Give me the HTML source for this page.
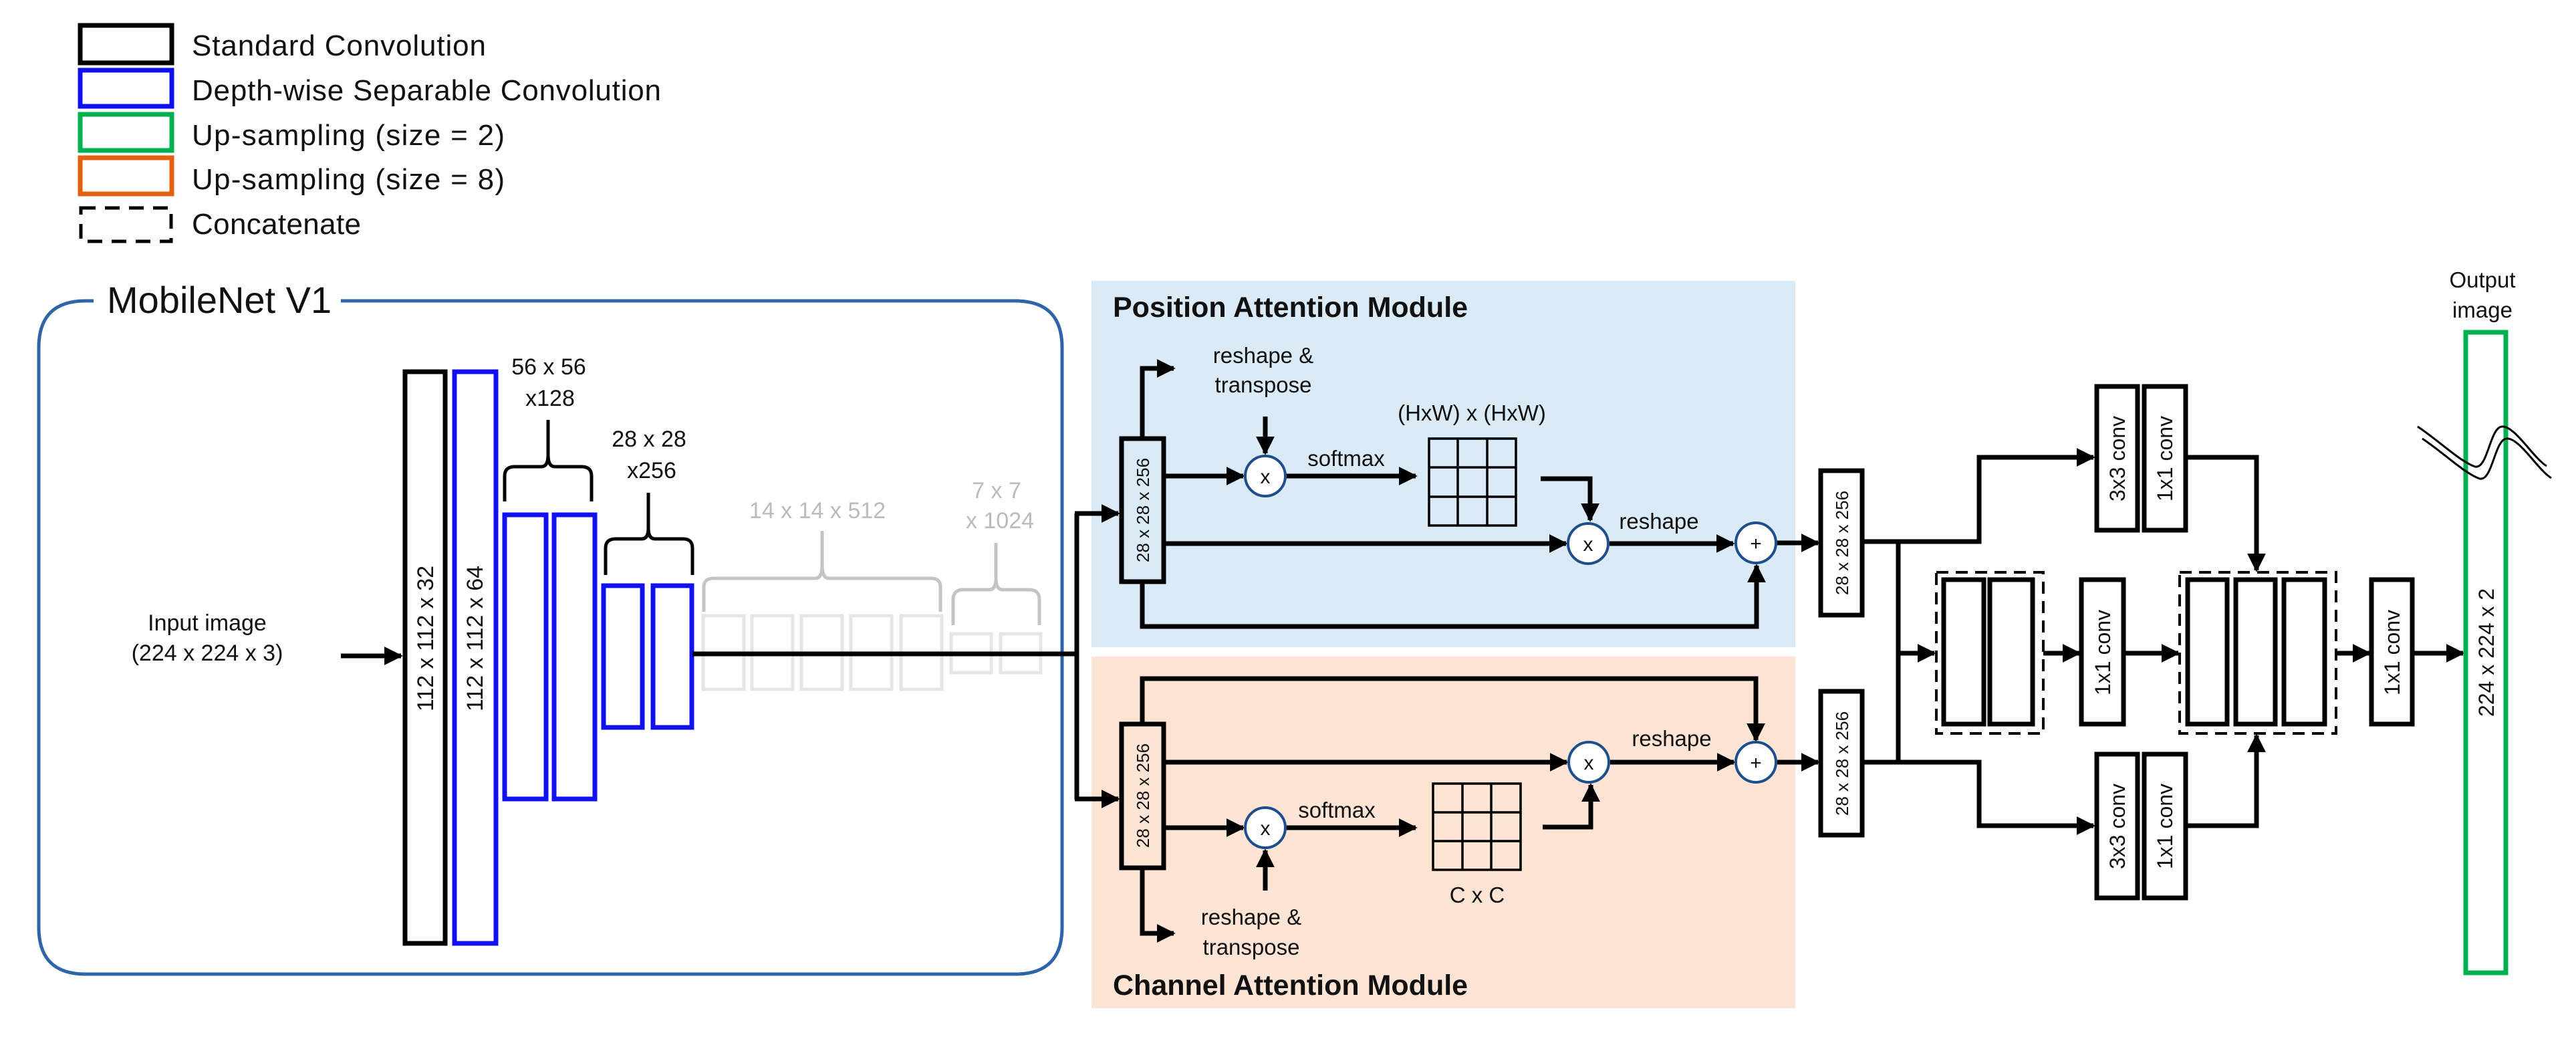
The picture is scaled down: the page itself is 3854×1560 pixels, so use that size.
<!DOCTYPE html>
<html><head><meta charset="utf-8"><style>html,body{margin:0;padding:0;background:#fff}svg{display:block}</style></head>
<body>
<svg xmlns="http://www.w3.org/2000/svg" width="3854" height="1560" viewBox="0 0 3854 1560" font-family="Liberation Sans, sans-serif">
<defs>
<marker id="ar" viewBox="0 0 10 10" refX="9" refY="5" markerWidth="4" markerHeight="4" orient="auto" markerUnits="strokeWidth"><path d="M0,0 L10,5 L0,10 z" fill="#000"/></marker>
</defs>
<!-- Legend -->
<g fill="none" stroke-width="7">
<rect x="120" y="38" width="137" height="56" stroke="#000"/>
<rect x="120" y="105" width="137" height="54" stroke="#1010f0"/>
<rect x="120" y="171" width="137" height="54" stroke="#00b050"/>
<rect x="120" y="236" width="137" height="54" stroke="#e46010"/>
<rect x="121" y="311" width="135" height="50" stroke="#000" stroke-dasharray="22,14" stroke-width="5"/>
</g>
<g font-size="44" fill="#111">
<text x="287" y="83" textLength="440">Standard Convolution</text>
<text x="287" y="150" textLength="702">Depth-wise Separable Convolution</text>
<text x="287" y="217" textLength="468">Up-sampling (size = 2)</text>
<text x="287" y="283" textLength="468">Up-sampling (size = 8)</text>
<text x="287" y="350" textLength="253">Concatenate</text>
</g>
<!-- Backgrounds -->
<rect x="1633" y="420" width="1053" height="548" fill="#dbeaf7"/>
<rect x="1633" y="982" width="1053" height="526" fill="#fde4d4"/>
<!-- MobileNet box -->
<path d="M140,450 L128,450 Q58,450 58,520 L58,1387 Q58,1457 128,1457 L1519,1457 Q1589,1457 1589,1387 L1589,520 Q1589,450 1519,450 L510,450" fill="none" stroke="#2e64a8" stroke-width="5"/>
<text x="160" y="468" font-size="56" fill="#111">MobileNet V1</text>
<!-- columns -->
<g fill="none" stroke-width="7">
<rect x="606" y="556" width="60" height="855" stroke="#000"/>
<rect x="680" y="556" width="62" height="855" stroke="#1010f0"/>
<rect x="755" y="770" width="62" height="425" stroke="#1010f0"/>
<rect x="829" y="770" width="61" height="425" stroke="#1010f0"/>
<rect x="903" y="876" width="58" height="212" stroke="#1010f0"/>
<rect x="977" y="876" width="58" height="212" stroke="#1010f0"/>
</g>
<g fill="none" stroke="#e6e6e6" stroke-width="5">
<rect x="1052" y="921" width="61" height="110"/><rect x="1125" y="921" width="61" height="110"/><rect x="1199" y="921" width="61" height="110"/><rect x="1273" y="921" width="61" height="110"/><rect x="1348" y="921" width="61" height="110"/>
<rect x="1423" y="948" width="60" height="58"/><rect x="1497" y="948" width="60" height="58"/>
</g>
<g font-size="34" fill="#111" text-anchor="middle">
<text transform="translate(648,955) rotate(-90)">112 x 112 x 32</text>
<text transform="translate(722,955) rotate(-90)">112 x 112 x 64</text>
<text x="821" y="560">56 x 56</text><text x="823" y="607">x128</text>
<text x="971" y="668">28 x 28</text><text x="975" y="715">x256</text>
<text x="1223" y="775" fill="#bbb">14 x 14 x 512</text>
<text x="1491" y="745" fill="#bbb">7 x 7</text><text x="1496" y="790" fill="#bbb">x 1024</text>
<text x="310" y="943">Input image</text><text x="310" y="988">(224 x 224 x 3)</text>
</g>
<!-- braces -->
<g fill="none" stroke-width="5">
<path d="M755,750 L755,712 Q755,698 770,698 L810,698 Q820,698 820,680 L820,628 M820,628 L820,680 Q820,698 830,698 L870,698 Q885,698 885,712 L885,750" stroke="#000"/>
<path d="M906,860 L906,820 Q906,806 921,806 L960,806 Q970,806 970,790 L970,737 M970,737 L970,790 Q970,806 980,806 L1022,806 Q1036,806 1036,820 L1036,860" stroke="#000"/>
<path d="M1053,915 L1053,878 Q1053,865 1068,865 L1220,865 Q1230,865 1230,845 L1230,794 M1230,794 L1230,845 Q1230,865 1240,865 L1393,865 Q1407,865 1407,878 L1407,915" stroke="#c4c4c4"/>
<path d="M1426,935 L1426,897 Q1426,882 1441,882 L1480,882 Q1490,882 1490,865 L1490,812 M1490,812 L1490,865 Q1490,882 1500,882 L1540,882 Q1555,882 1555,897 L1555,935" stroke="#c4c4c4"/>
</g>
<!-- connectors -->
<g fill="none" stroke="#000" stroke-width="7">
<path d="M510,981 L600,981" marker-end="url(#ar)"/>
<path d="M1036,978 L1611,978"/>
<path d="M1611,768 L1611,1196"/>
<path d="M1608,768 L1673,768" marker-end="url(#ar)"/>
<path d="M1608,1195 L1673,1195" marker-end="url(#ar)"/>
<!-- PAM -->
<path d="M1709,655 L1709,551 L1756,551" marker-end="url(#ar)"/>
<path d="M1893,623 L1893,678" marker-end="url(#ar)"/>
<path d="M1742,712 L1860,712" marker-end="url(#ar)"/>
<path d="M1924,712 L2118,712" marker-end="url(#ar)"/>
<path d="M2305,716 L2379,716 L2379,778" marker-end="url(#ar)"/>
<path d="M1742,813 L2343,813" marker-end="url(#ar)"/>
<path d="M2408,813 L2593,813" marker-end="url(#ar)"/>
<path d="M1709,871 L1709,937 L2628,937 L2628,846" marker-end="url(#ar)"/>
<path d="M2658,812 L2720,812" marker-end="url(#ar)"/>
<!-- CAM -->
<path d="M1709,1082 L1709,1015 L2627,1015 L2627,1107" marker-end="url(#ar)"/>
<path d="M1742,1140 L2344,1140" marker-end="url(#ar)"/>
<path d="M2409,1140 L2594,1140" marker-end="url(#ar)"/>
<path d="M1742,1238 L1860,1238" marker-end="url(#ar)"/>
<path d="M1893,1332 L1893,1272" marker-end="url(#ar)"/>
<path d="M1924,1238 L2118,1238" marker-end="url(#ar)"/>
<path d="M2308,1237 L2380,1237 L2380,1174" marker-end="url(#ar)"/>
<path d="M1709,1299 L1709,1396 L1756,1396" marker-end="url(#ar)"/>
<path d="M2659,1140 L2720,1140" marker-end="url(#ar)"/>
<!-- decoder -->
<path d="M2787,810 L2961,810 L2961,684 L3132,684" marker-end="url(#ar)"/>
<path d="M2787,1140 L2961,1140 L2961,1235 L3132,1235" marker-end="url(#ar)"/>
<path d="M2840,810 L2840,1140"/>
<path d="M2840,977 L2894,977" marker-end="url(#ar)"/>
<path d="M3057,977 L3111,977" marker-end="url(#ar)"/>
<path d="M3178,977 L3259,977" marker-end="url(#ar)"/>
<path d="M3495,977 L3545,977" marker-end="url(#ar)"/>
<path d="M3610,977 L3685,977" marker-end="url(#ar)"/>
<path d="M3271,684 L3376,684 L3376,853" marker-end="url(#ar)"/>
<path d="M3271,1235 L3376,1235 L3376,1100" marker-end="url(#ar)"/>
</g>
<!-- boxes -->
<g fill="#fff" stroke="#000" stroke-width="7">
<rect x="1678" y="656" width="63" height="214" fill="none"/>
<rect x="1678" y="1083" width="63" height="215" fill="none"/>
<rect x="2724" y="704" width="62" height="216"/>
<rect x="2724" y="1034" width="62" height="215"/>
<rect x="3137" y="578" width="61" height="215"/>
<rect x="3208" y="578" width="62" height="215"/>
<rect x="3137" y="1128" width="61" height="215"/>
<rect x="3208" y="1128" width="62" height="215"/>
<rect x="2908" y="867" width="60" height="216"/>
<rect x="2977" y="867" width="64" height="216"/>
<rect x="3114" y="867" width="63" height="216"/>
<rect x="3273" y="867" width="59" height="216"/>
<rect x="3345" y="867" width="59" height="216"/>
<rect x="3417" y="867" width="61" height="216"/>
<rect x="3548" y="867" width="61" height="216"/>
</g>
<g fill="none" stroke="#000" stroke-width="4" stroke-dasharray="18,11">
<rect x="2897" y="856" width="160" height="241"/>
<rect x="3261" y="856" width="234" height="241"/>
</g>
<rect x="3689" y="497" width="60" height="958" fill="none" stroke="#00b050" stroke-width="7"/>
<!-- wave -->
<g fill="none" stroke="#000" stroke-width="3">
<path d="M3617,638 C3650,660 3680,690 3703,698 C3722,702 3725,640 3743,638 C3762,636 3790,685 3810,697"/>
<path d="M3624,656 C3657,678 3687,708 3710,716 C3729,720 3732,658 3750,656 C3769,654 3797,703 3817,715"/>
</g>
<!-- grids -->
<g fill="none" stroke="#000" stroke-width="3.5">
<rect x="2138" y="656" width="130" height="130"/><path d="M2181,656V786M2225,656V786M2138,699H2268M2138,743H2268"/>
<rect x="2144" y="1172" width="131" height="129"/><path d="M2188,1172V1301M2231,1172V1301M2144,1215H2275M2144,1258H2275"/>
</g>
<!-- circles -->
<g fill="#fff" stroke="#1f4e8c" stroke-width="4">
<circle cx="1893" cy="712" r="30"/><circle cx="2376" cy="813" r="30"/><circle cx="2627" cy="812" r="30"/>
<circle cx="1893" cy="1238" r="30"/><circle cx="2377" cy="1140" r="30"/><circle cx="2627" cy="1140" r="30"/>
</g>
<g font-size="30" fill="#111" text-anchor="middle">
<text x="1893" y="723">x</text><text x="2376" y="824">x</text><text x="2627" y="823">+</text>
<text x="1893" y="1249">x</text><text x="2377" y="1151">x</text><text x="2627" y="1151">+</text>
</g>
<!-- labels -->
<g font-size="33" fill="#111" text-anchor="middle">
<text x="1890" y="543">reshape &amp;</text><text x="1890" y="587">transpose</text>
<text x="2202" y="629">(HxW) x (HxW)</text>
<text x="2014" y="697">softmax</text>
<text x="2482" y="791">reshape</text>
<text x="2501" y="1116">reshape</text>
<text x="2000" y="1223">softmax</text>
<text x="2210" y="1350">C x C</text>
<text x="1872" y="1383">reshape &amp;</text><text x="1872" y="1428">transpose</text>
<text x="3714" y="430">Output</text><text x="3714" y="475">image</text>
</g>
<g font-size="26" fill="#111" text-anchor="middle">
<text transform="translate(1719,763) rotate(-90)">28 x 28 x 256</text>
<text transform="translate(1719,1190) rotate(-90)">28 x 28 x 256</text>
<text transform="translate(2765,812) rotate(-90)">28 x 28 x 256</text>
<text transform="translate(2765,1142) rotate(-90)">28 x 28 x 256</text>
</g>
<g font-size="32" fill="#111" text-anchor="middle">
<text transform="translate(3179,686) rotate(-90)">3x3 conv</text>
<text transform="translate(3250,686) rotate(-90)">1x1 conv</text>
<text transform="translate(3179,1236) rotate(-90)">3x3 conv</text>
<text transform="translate(3250,1236) rotate(-90)">1x1 conv</text>
<text transform="translate(3157,976) rotate(-90)">1x1 conv</text>
<text transform="translate(3590,976) rotate(-90)">1x1 conv</text>
<text transform="translate(3731,976) rotate(-90)">224 x 224 x 2</text>
</g>
<text x="1665" y="474" font-size="43" font-weight="bold" fill="#111">Position Attention Module</text>
<text x="1665" y="1488" font-size="43" font-weight="bold" fill="#111">Channel Attention Module</text>
</svg>
</body></html>
